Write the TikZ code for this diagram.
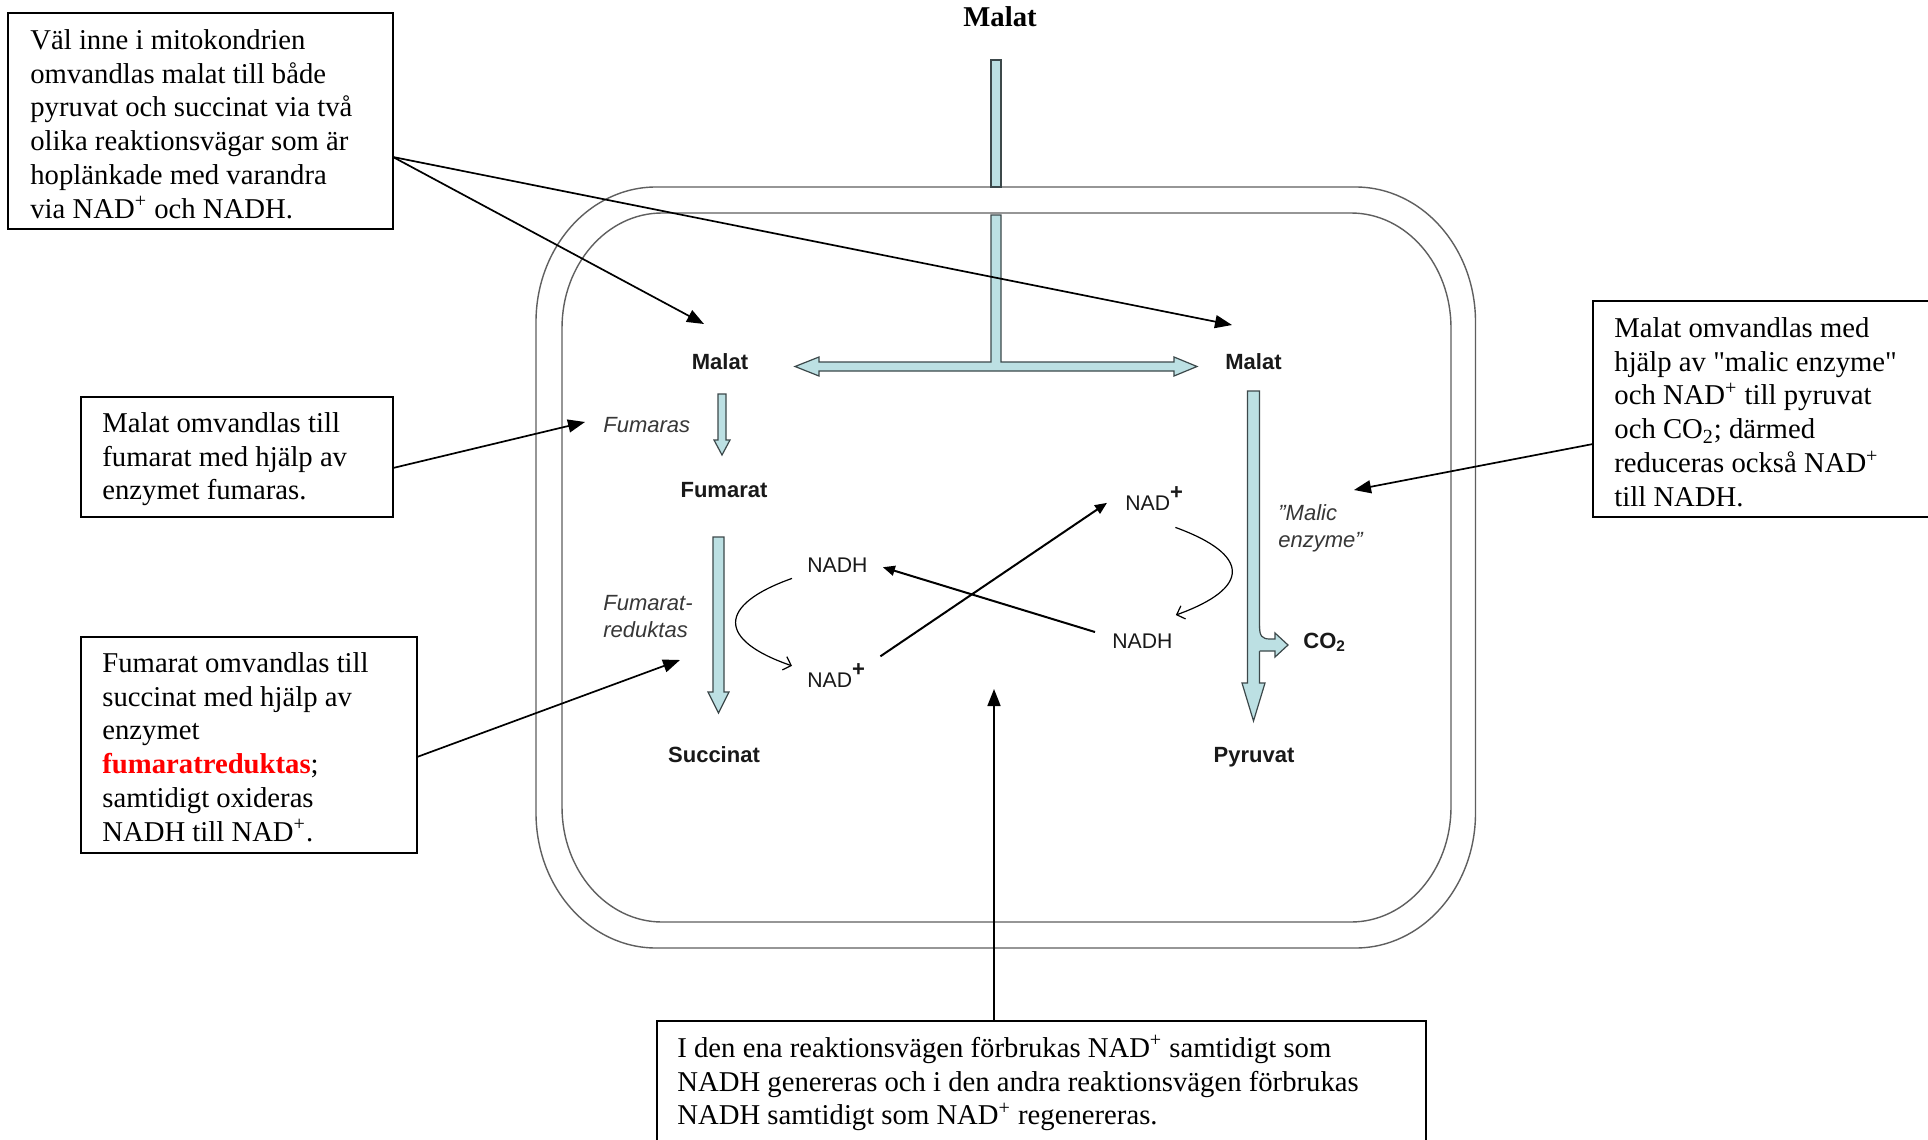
\documentclass[tikz,border=0pt]{standalone}
\usepackage{fontspec}
\setmainfont{Liberation Serif}[Ligatures=TeXOff]
\setsansfont{Liberation Sans}
\usetikzlibrary{arrows.meta,calc}
\definecolor{memfill}{RGB}{188,224,227}
\definecolor{memline}{RGB}{60,72,74}
\definecolor{membr}{RGB}{95,95,95}
\definecolor{lbl}{RGB}{25,25,25}
\definecolor{lblit}{RGB}{55,55,55}
\newcommand\bodyfs{\fontsize{14.35pt}{16.9pt}\selectfont}
\newcommand\nplus{\raisebox{5.2pt}{\fontsize{11pt}{11pt}\selectfont\bfseries +}}
\begin{document}
\begin{tikzpicture}[x=0.5pt,y=-0.5pt,
  box/.style={draw, line width=0.85pt, rectangle, inner sep=0pt, outer sep=0pt},
  txt/.style={font=\bodyfs, align=left, anchor=north west, inner sep=0pt},
  lead/.style={line width=0.85pt, -{Triangle[length=8.5pt,width=6.5pt]}},
  nadarr/.style={line width=1pt, -{Triangle[length=6pt,width=5pt]}},
  curv/.style={line width=0.6pt, -{Straight Barb[length=3.5pt,width=7pt]}},
  mem/.style={draw=membr, line width=0.7pt},
  tube/.style={fill=memfill, draw=memline, line width=0.6pt, line join=miter},
  lb/.style={font=\fontsize{11pt}{13pt}\selectfont\sffamily\bfseries, text=lbl, inner sep=0pt, anchor=base},
  lit/.style={font=\fontsize{11pt}{13.5pt}\selectfont\sffamily\itshape, text=lblit, inner sep=0pt, align=left, anchor=north west},
  nad/.style={font=\fontsize{10.6pt}{12pt}\selectfont\sffamily, text=lbl, inner sep=0pt, anchor=base west}]

\useasboundingbox (0,0) rectangle (1928,1140);
\fill[white] (0,0) rectangle (1928,1140);
\clip (0,0) rectangle (1928,1140);

% membranes
\draw[mem] (656,187) -- (1355.5,187) arc[start angle=90,end angle=0,x radius=60pt,y radius=67.5pt]
  -- (1475.5,813) arc[start angle=0,end angle=-90,x radius=60pt,y radius=67.5pt]
  -- (656,948) arc[start angle=270,end angle=180,x radius=60pt,y radius=67.5pt]
  -- (536,322) arc[start angle=180,end angle=90,x radius=60pt,y radius=67.5pt] -- cycle;
\draw[mem] (662,213) -- (1351,213) arc[start angle=90,end angle=0,x radius=50pt,y radius=57.5pt]
  -- (1451,807) arc[start angle=0,end angle=-90,x radius=50pt,y radius=57.5pt]
  -- (662,922) arc[start angle=270,end angle=180,x radius=50pt,y radius=57.5pt]
  -- (562,328) arc[start angle=180,end angle=90,x radius=50pt,y radius=57.5pt] -- cycle;

% transport tubes
\draw[tube] (991,60) rectangle (1001,187);
\draw[tube] (991,215) -- (1001,215) -- (1001,362) -- (1174,362) -- (1174,357) -- (1197,366.5)
  -- (1174,376) -- (1174,371) -- (819,371) -- (819,376) -- (795,366.5) -- (819,357)
  -- (819,362) -- (991,362) -- cycle;
% fumaras arrow
\draw[tube] (718,394) -- (726,394) -- (726,440) -- (730,440) -- (722,455) -- (714,440) -- (718,440) -- cycle;
% fumaratreduktas arrow
\draw[tube] (713,537) -- (724,537) -- (724,692) -- (729,692) -- (718.5,713) -- (708,692) -- (713,692) -- cycle;
% malic enzyme arrow
\draw[tube] (1247.5,391) -- (1259.5,391) -- (1259.5,683) -- (1265,683) -- (1253.5,721) -- (1242,683) -- (1247.5,683) -- cycle;
% CO2 branch
\fill[memfill] (1255,626) -- (1259.5,626) .. controls (1259.5,636) and (1262,639) .. (1270,639)
  -- (1275,639) -- (1275,633) -- (1288,645) -- (1275,657) -- (1275,651) -- (1255,651) -- cycle;
\draw[draw=memline, line width=0.6pt, line join=miter] (1259.5,626) .. controls (1259.5,636) and (1262,639) .. (1270,639)
  -- (1275,639) -- (1275,633) -- (1288,645) -- (1275,657) -- (1275,651) -- (1259.5,651);

% labels
\node[font=\fontsize{14.35pt}{17pt}\selectfont\bfseries, inner sep=0pt, anchor=base] (title) at (1000,26) {Malat};
\node[lb] (malatL) at (720,369) {Malat};
\node[lb] (malatR) at (1253.5,369) {Malat};
\node[lb] (fumarat) at (724,497) {Fumarat};
\node[lb] (succinat) at (714,762) {Succinat};
\node[lb] (pyruvat) at (1254,762) {Pyruvat};
\node[lb, anchor=base west] (co2) at (1303,648) {CO\textsubscript{2}};
\node[lit] (fumaras) at (603,413.1) {\strut Fumaras};
\node[lit] (fumred) at (603,591.1) {\strut Fumarat-\\reduktas};
\node[lit] (malic) at (1278,501.1) {\strut ”Malic\\enzyme”};

\node[nad] (nadhL) at (807,572) {NADH};
\node[nad] (nadL) at (807,687) {NAD\nplus};
\node[nad] (nadR) at (1125,510) {NAD\nplus};
\node[nad] (nadhR) at (1112,648) {NADH};

% NAD cycle
\draw[nadarr] ($(nadL.north east)+(15,-7)$) -- ($(nadR.west)+(-18,4.5)$);
\draw[nadarr] ($(nadhR.north west)+(-17,-1)$) -- ($(nadhL.east)+(15,2.5)$);
\draw[curv] ($(nadhL.south west)+(-15,6)$) .. controls (717,605) and (717,640) .. ($(nadL.west)+(-15,-9.5)$);
\draw[curv] ($(nadR.south east)+(-8,17)$) .. controls (1251,555) and (1251,588) .. ($(nadhR.north east)+(3,-18)$);

% explanation boxes
\node[box, minimum width=192.5pt, minimum height=108pt] (box1) at (200.5,121) {};
\node[txt] (t1) at (30,25.3) {\strut Väl inne i mitokondrien\\ omvandlas malat till både\\ pyruvat och succinat via två\\ olika reaktionsvägar som är\\ hoplänkade med varandra\\ via NAD\textsuperscript{+} och NADH.};

\node[box, minimum width=156pt, minimum height=60pt] (box2) at (237,457) {};
\node[txt] (t2) at (102,408.3) {\strut Malat omvandlas till\\ fumarat med hjälp av\\ enzymet fumaras.};

\node[box, minimum width=168pt, minimum height=108pt] (box3) at (249,745) {};
\node[txt] (t3) at (102,648.3) {\strut Fumarat omvandlas till\\ succinat med hjälp av\\ enzymet\\ \textcolor{red}{\textbf{fumaratreduktas}};\\ samtidigt oxideras\\ NADH till NAD\textsuperscript{+}.};

\node[box, minimum width=173.5pt, minimum height=108pt] (box4) at (1766.5,409) {};
\node[txt] (t4) at (1614,313.3) {\strut Malat omvandlas med\\ hjälp av "malic enzyme"\\ och NAD\textsuperscript{+} till pyruvat\\ och CO\textsubscript{2}; därmed\\ reduceras också NAD\textsuperscript{+}\\ till NADH.};

\node[box, minimum width=384.5pt, minimum height=69.5pt] (box5) at (1041.5,1090.5) {};
\node[txt] (t5) at (677,1033.3) {\strut I den ena reaktionsvägen förbrukas NAD\textsuperscript{+} samtidigt som\\ NADH genereras och i den andra reaktionsvägen förbrukas\\ NADH samtidigt som NAD\textsuperscript{+} regenereras.};

% leader arrows
\coordinate (tipMalatL) at (704,324);
\coordinate (tipMalatR) at (1232,325);
\coordinate (tipFumaras) at (585,422);
\coordinate (tipFumred) at (680,660);
\coordinate (tipMalic) at (1354,490);
\coordinate (tipMid) at (994,689);
\draw[lead] ($(box1.north east)+(0,144)$) -- (tipMalatL);
\draw[lead] ($(box1.north east)+(0,144)$) -- (tipMalatR);
\draw[lead] ($(box2.north east)+(0,71)$) -- (tipFumaras);
\draw[lead] ($(box3.north east)+(0,120)$) -- (tipFumred);
\draw[lead] ($(box4.north west)+(0,143)$) -- (tipMalic);
\draw[lead] ($(box5.north west)+(337,0)$) -- (tipMid);
\end{tikzpicture}
\end{document}
